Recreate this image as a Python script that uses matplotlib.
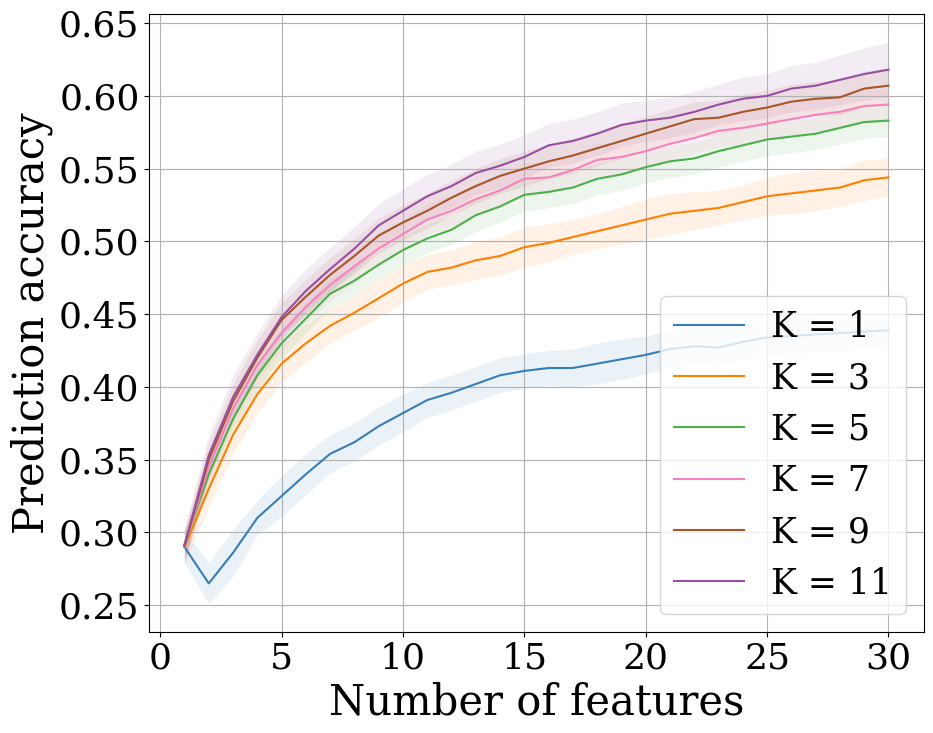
import numpy as np
from matplotlib import pyplot as plt
from matplotlib.ticker import MultipleLocator, FormatStrFormatter

n_features = list(range(1, 31))

acc_k1 = [0.290, 0.265, 0.286, 0.310, 0.325, 0.340, 0.354, 0.362, 0.373, 0.382,
          0.391, 0.396, 0.402, 0.408, 0.411, 0.413, 0.413, 0.416, 0.419, 0.422,
          0.426, 0.428, 0.427, 0.431, 0.434, 0.435, 0.436, 0.437, 0.438, 0.439]
acc_k3 = [0.290, 0.330, 0.367, 0.395, 0.416, 0.430, 0.442, 0.451, 0.461, 0.471,
          0.479, 0.482, 0.487, 0.490, 0.496, 0.499, 0.503, 0.507, 0.511, 0.515,
          0.519, 0.521, 0.523, 0.527, 0.531, 0.533, 0.535, 0.537, 0.542, 0.544]
acc_k5 = [0.292, 0.340, 0.378, 0.408, 0.430, 0.447, 0.464, 0.473, 0.484, 0.494,
          0.502, 0.508, 0.518, 0.524, 0.532, 0.534, 0.537, 0.543, 0.546, 0.551,
          0.555, 0.557, 0.562, 0.566, 0.570, 0.572, 0.574, 0.578, 0.582, 0.583]
acc_k7 = [0.291, 0.345, 0.385, 0.415, 0.437, 0.455, 0.470, 0.483, 0.495, 0.505,
          0.515, 0.521, 0.529, 0.535, 0.543, 0.544, 0.549, 0.556, 0.558, 0.562,
          0.567, 0.571, 0.576, 0.578, 0.581, 0.584, 0.587, 0.589, 0.593, 0.594]
acc_k9 = [0.291, 0.350, 0.390, 0.420, 0.446, 0.462, 0.477, 0.490, 0.504, 0.513,
          0.521, 0.530, 0.538, 0.545, 0.550, 0.555, 0.559, 0.564, 0.569, 0.574,
          0.579, 0.584, 0.585, 0.589, 0.592, 0.596, 0.598, 0.599, 0.605, 0.607]
acc_k11 = [0.291, 0.353, 0.393, 0.422, 0.448, 0.466, 0.481, 0.495, 0.511, 0.521,
           0.531, 0.538, 0.547, 0.552, 0.558, 0.566, 0.569, 0.574, 0.580, 0.583,
           0.585, 0.589, 0.594, 0.598, 0.600, 0.605, 0.607, 0.611, 0.615, 0.618]

# half width of the shaded band
ci_k1 = [0.011, 0.014, 0.016, 0.012, 0.014, 0.014, 0.013, 0.013, 0.013, 0.013,
         0.012, 0.012, 0.012, 0.012, 0.012, 0.012, 0.013, 0.014, 0.014, 0.013,
         0.013, 0.012, 0.012, 0.012, 0.012, 0.012, 0.012, 0.012, 0.011, 0.010]
ci_k3 = [0.012, 0.012, 0.013, 0.013, 0.013, 0.013, 0.012, 0.012, 0.013, 0.013,
         0.012, 0.012, 0.013, 0.013, 0.014, 0.013, 0.012, 0.012, 0.013, 0.014,
         0.014, 0.013, 0.012, 0.012, 0.013, 0.014, 0.014, 0.013, 0.014, 0.013]
ci_k5 = [0.009, 0.010, 0.010, 0.010, 0.010, 0.010, 0.010, 0.010, 0.010, 0.010,
         0.010, 0.010, 0.011, 0.011, 0.011, 0.011, 0.011, 0.011, 0.011, 0.011,
         0.011, 0.011, 0.011, 0.011, 0.011, 0.011, 0.011, 0.011, 0.011, 0.011]
ci_k7 = [0.010, 0.011, 0.011, 0.011, 0.011, 0.011, 0.011, 0.011, 0.011, 0.011,
         0.011, 0.011, 0.011, 0.011, 0.011, 0.011, 0.011, 0.011, 0.011, 0.011,
         0.011, 0.011, 0.011, 0.011, 0.011, 0.011, 0.011, 0.011, 0.011, 0.011]
ci_k9 = [0.011, 0.012, 0.012, 0.012, 0.012, 0.012, 0.012, 0.012, 0.012, 0.012,
         0.012, 0.012, 0.012, 0.012, 0.012, 0.012, 0.012, 0.012, 0.012, 0.012,
         0.012, 0.012, 0.012, 0.012, 0.012, 0.012, 0.012, 0.012, 0.012, 0.012]
ci_k11 = [0.012, 0.014, 0.015, 0.015, 0.015, 0.015, 0.015, 0.015, 0.015, 0.015,
          0.015, 0.015, 0.015, 0.015, 0.015, 0.015, 0.015, 0.015, 0.015, 0.014,
          0.014, 0.014, 0.014, 0.015, 0.015, 0.016, 0.016, 0.017, 0.018, 0.019]

labels = ['K = 1', 'K = 3', 'K = 5', 'K = 7', 'K = 9', 'K = 11']
series = [acc_k1, acc_k3, acc_k5, acc_k7, acc_k9, acc_k11]
bands = [ci_k1, ci_k3, ci_k5, ci_k7, ci_k9, ci_k11]
# Set1 style colours
colors = ['#377eb8', '#ff7f00', '#4daf4a', '#f781bf', '#a65628', '#984ea3']

plt.rcParams['font.family'] = 'DejaVu Serif'

fig, ax = plt.subplots(figsize=(9.33, 7.33), dpi=100)
x = np.array(n_features)
for acc, ci, col, lab in zip(series, bands, colors, labels):
    acc = np.array(acc)
    ci = np.array(ci)
    ax.fill_between(x, acc - ci, acc + ci, color=col, alpha=0.1, linewidth=0)
    ax.plot(x, acc, color=col, linewidth=1.5, label=lab)

ax.set_xlabel('Number of features', fontsize=30)
ax.set_ylabel('Prediction accuracy', fontsize=30)
ax.tick_params(labelsize=26)
ax.xaxis.set_major_locator(MultipleLocator(5))
ax.yaxis.set_major_locator(MultipleLocator(0.05))
ax.yaxis.set_major_formatter(FormatStrFormatter('%.2f'))
ax.grid(True)
ax.legend(loc='lower right', fontsize=25)
fig.subplots_adjust(left=0.160, right=0.990, bottom=0.138, top=0.981)
plt.savefig('out.png')
